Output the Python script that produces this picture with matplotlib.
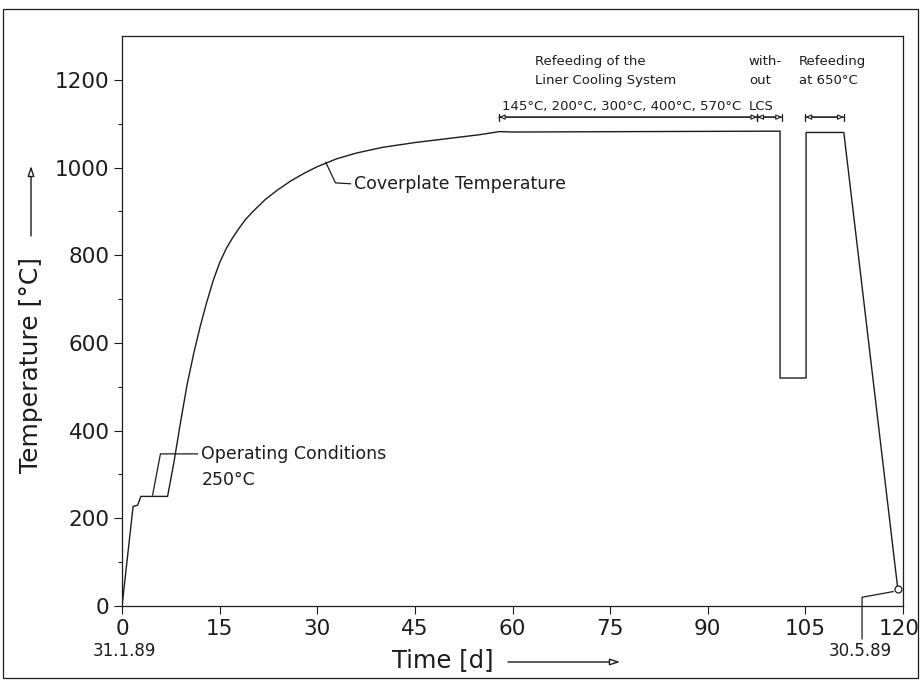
import matplotlib.pyplot as plt
import matplotlib.transforms as mtransforms
import numpy as np

# coverplate temperature (days, deg C)
days = [0, 1.7, 2.4, 2.9, 4.0, 7.0, 8.0, 9.0, 10.0, 11.0, 12.0, 13.0, 14.0, 15.0,
        16.0, 17.0, 18.0, 19.0, 20.0, 22.0, 24.0, 26.0, 28.0, 30.0, 33.0, 36.0,
        40.0, 45.0, 50.0, 55.0, 58.0, 60.0, 80.0, 101.1, 101.1, 105.1, 105.1,
        110.9, 119.2]
temps = [0, 227, 230, 250, 250, 250, 330, 420, 505, 575, 637, 692, 742, 783,
         815, 840, 862, 882, 898, 927, 950, 970, 987, 1002, 1020, 1033,
         1046, 1057, 1066, 1075, 1082, 1081, 1082, 1083, 520, 520, 1080,
         1080, 38]

x_ticks = [0, 15, 30, 45, 60, 75, 90, 105, 120]
y_ticks = [0, 200, 400, 600, 800, 1000, 1200]

# dimension brackets above the plateau
bracket_starts = [57.9, 97.6, 105.0]
bracket_ends = [97.6, 101.4, 110.9]
bracket_level = 1115

ink = '#1c1c1c'
plt.rcParams['font.family'] = ['DejaVu Sans']

fig = plt.figure(figsize=(9.23, 6.83), dpi=100)
ax = fig.add_axes([0.1322, 0.1127, 0.8462, 0.8346])

ax.plot(days, temps, color=ink, lw=1.0)
ax.plot(days[-1], temps[-1], 'o', mfc='white', mec=ink, ms=5, mew=0.9)

ax.set_xlim(0, 120)
ax.set_ylim(0, 1300)
ax.set_xticks(x_ticks)
ax.set_yticks(y_ticks)
ax.set_yticks(np.arange(100, 1300, 200), minor=True)
ax.tick_params(axis='both', direction='out', length=6, width=0.8, labelsize=15.5,
               color=ink, labelcolor=ink, pad=3)
ax.tick_params(axis='y', which='minor', length=3, width=0.8, color=ink)
for s in ax.spines.values():
    s.set_color(ink)
    s.set_linewidth(0.9)

# keep the last x label inside the page
last = ax.get_xticklabels()[-1]
last.set_transform(last.get_transform() +
                   mtransforms.ScaledTranslation(-4 / 100, 0, fig.dpi_scale_trans))

# brackets
for a, b in zip(bracket_starts, bracket_ends):
    ax.annotate('', xy=(b, bracket_level), xytext=(a, bracket_level),
                arrowprops=dict(arrowstyle='|-|, widthA=0.25, widthB=0.25',
                                color=ink, lw=0.9, shrinkA=0, shrinkB=0))
    ax.annotate('', xy=(b, bracket_level), xytext=(a, bracket_level),
                arrowprops=dict(arrowstyle='<|-|>, head_length=0.35, head_width=0.15',
                                fc='white', ec=ink, lw=0.8, shrinkA=0, shrinkB=0))

txt = dict(color=ink, fontsize=9.5, ha='left', va='center')
ax.text(63.5, 1242, 'Refeeding of the', **txt)
ax.text(63.5, 1199, 'Liner Cooling System', **txt)
ax.text(58.4, 1140, '145°C, 200°C, 300°C, 400°C, 570°C', **txt)
ax.text(96.3, 1242, 'with-', **txt)
ax.text(96.3, 1199, 'out', **txt)
ax.text(96.3, 1140, 'LCS', **txt)
ax.text(104.0, 1242, 'Refeeding', **txt)
ax.text(104.0, 1199, 'at 650°C', **txt)

# leader lines
ax.plot([31.3, 32.8, 35.1], [1012, 965, 963], color=ink, lw=0.9)
ax.text(35.7, 963, 'Coverplate Temperature', color=ink, fontsize=12.5,
        ha='left', va='center')
ax.plot([4.7, 5.9, 11.6], [253, 347, 347], color=ink, lw=0.9)
ax.text(12.2, 347, 'Operating Conditions', color=ink, fontsize=12.5,
        ha='left', va='center')
ax.text(12.2, 288, '250°C', color=ink, fontsize=12.5, ha='left', va='center')

ax.plot([113.7, 113.7, 118.5], [-75, 20, 33], color=ink, lw=0.9, clip_on=False)
ax.text(113.4, -102, '30.5.89', color=ink, fontsize=12, ha='center', va='center')
ax.text(0.4, -102, '31.1.89', color=ink, fontsize=12, ha='center', va='center')

# axis titles with arrows
fig.text(31 / 923, 1 - 365 / 683, 'Temperature [°C]', rotation=90, fontsize=18,
         color=ink, ha='center', va='center')
ax.annotate('', xy=(31 / 923, 1 - 166 / 683), xytext=(31 / 923, 1 - 236 / 683),
            xycoords='figure fraction', textcoords='figure fraction',
            arrowprops=dict(arrowstyle='-|>, head_length=0.6, head_width=0.2',
                            fc='white', ec=ink, lw=1.0, shrinkA=0, shrinkB=0))
fig.text(443 / 923, 1 - 660 / 683, 'Time [d]', fontsize=17.5, color=ink,
         ha='center', va='center')
ax.annotate('', xy=(620 / 923, 1 - 662 / 683), xytext=(508 / 923, 1 - 662 / 683),
            xycoords='figure fraction', textcoords='figure fraction',
            arrowprops=dict(arrowstyle='-|>, head_length=0.6, head_width=0.2',
                            fc='white', ec=ink, lw=1.0, shrinkA=0, shrinkB=0))

# outer frame of the scanned figure
fig.patches.append(plt.Rectangle((3 / 923, 1 - 678 / 683), 915 / 923, 669 / 683,
                                 transform=fig.transFigure, fill=False,
                                 ec=ink, lw=0.9))

fig.savefig('out.png', dpi=100)
